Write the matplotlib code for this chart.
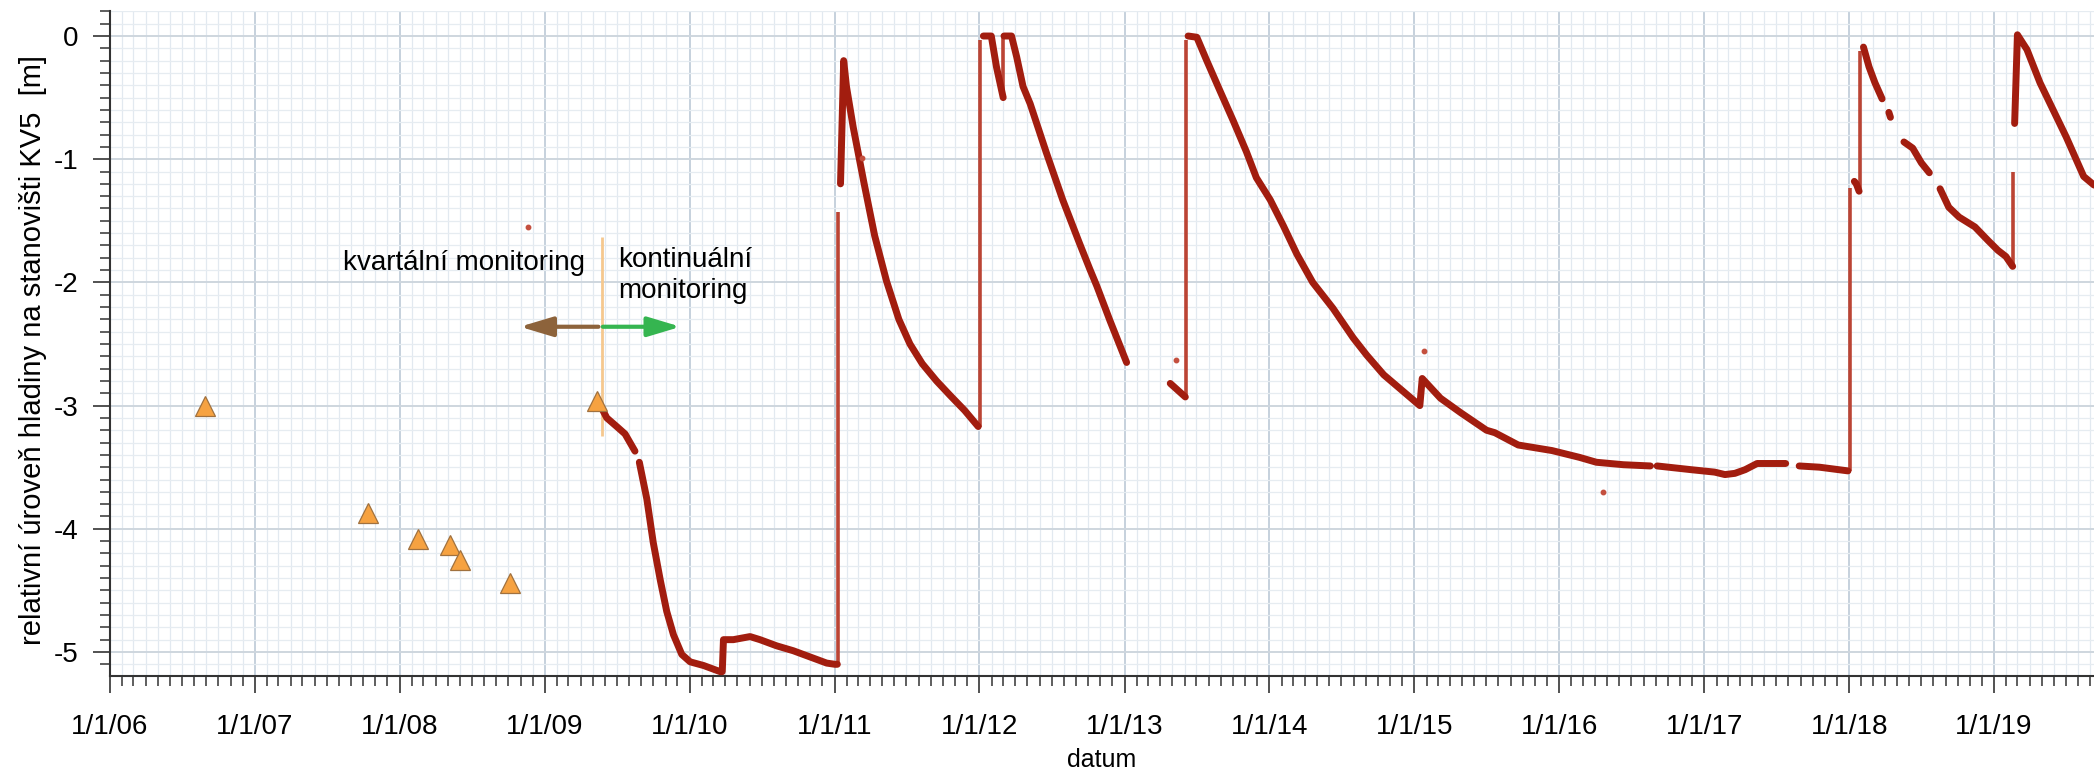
import matplotlib
matplotlib.use("Agg")
import matplotlib.pyplot as plt
import matplotlib.dates as mdates
from matplotlib.ticker import MultipleLocator, FuncFormatter
import numpy as np
import pandas as pd

plt.rcParams['font.family'] = ['Liberation Sans', 'DejaVu Sans']
plt.rcParams['axes.unicode_minus'] = False

nan = np.nan

# ---- quarterly manual measurements (triangles) ----
quarterly_dates = ['2006-08-28', '2007-10-13', '2008-02-15', '2008-05-08',
                   '2008-05-31', '2008-10-05', '2009-05-12']
quarterly_m = [-3.00, -3.87, -4.08, -4.13, -4.25, -4.44, -2.96]

# ---- continuous logger record (NaN = gap in record) ----
level_dates = [
    '2009-05-24', '2009-06-06', '2009-07-01', '2009-07-22', '2009-08-16', '2009-08-16',
    '2009-08-27', '2009-09-15', '2009-10-01', '2009-10-19', '2009-11-04', '2009-11-21',
    '2009-12-12', '2010-01-02', '2010-02-05', '2010-03-19', '2010-03-24', '2010-03-27',
    '2010-04-21', '2010-06-02', '2010-06-27', '2010-08-08', '2010-09-19', '2010-10-31',
    '2010-12-12', '2011-01-02', '2011-01-08', '2011-01-08',
    '2011-01-16', '2011-01-24', '2011-01-31', '2011-02-17', '2011-03-16', '2011-04-12',
    '2011-05-12', '2011-06-12', '2011-07-10', '2011-08-10', '2011-09-15', '2011-10-20',
    '2011-11-25', '2011-12-29', '2011-12-29',
    '2012-01-11', '2012-01-31', '2012-02-13', '2012-03-01', '2012-03-01',
    '2012-03-03', '2012-03-22', '2012-04-04', '2012-04-20', '2012-05-08', '2012-06-17',
    '2012-07-29', '2012-09-09', '2012-10-05', '2012-10-23', '2012-11-25', '2013-01-06',
    '2013-01-06',
    '2013-04-26', '2013-06-03', '2013-06-03',
    '2013-06-10', '2013-07-02', '2013-07-27', '2013-08-30', '2013-10-02', '2013-11-04',
    '2013-11-29', '2014-01-03', '2014-02-05', '2014-03-11', '2014-04-20', '2014-06-10',
    '2014-07-31', '2014-09-03', '2014-10-16', '2014-12-06', '2015-01-15', '2015-01-21',
    '2015-03-08', '2015-04-29', '2015-07-02', '2015-07-23', '2015-09-20', '2015-12-14',
    '2016-02-21', '2016-04-04', '2016-06-11', '2016-08-18', '2016-08-18',
    '2016-09-04', '2016-11-28', '2017-01-27', '2017-02-22', '2017-03-19', '2017-04-14',
    '2017-05-14', '2017-07-25', '2017-07-25',
    '2017-08-28', '2017-10-18', '2017-12-29', '2017-12-29',
    '2018-01-14', '2018-01-19', '2018-01-26', '2018-01-26',
    '2018-02-06', '2018-02-20', '2018-03-07', '2018-03-25', '2018-03-25',
    '2018-04-11', '2018-04-15', '2018-04-15',
    '2018-05-19', '2018-06-10', '2018-07-02', '2018-07-22', '2018-07-22',
    '2018-08-18', '2018-09-09', '2018-10-05', '2018-11-14', '2018-12-17', '2019-01-11',
    '2019-01-31', '2019-02-17', '2019-02-17',
    '2019-02-22', '2019-03-01', '2019-03-25', '2019-04-27', '2019-05-30', '2019-07-02',
    '2019-08-15', '2019-09-10',
]
level_m = [
    -3.02, -3.10, -3.17, -3.23, -3.37, nan,
    -3.46, -3.76, -4.11, -4.42, -4.67, -4.86,
    -5.02, -5.08, -5.11, -5.16, -5.16, -4.90,
    -4.90, -4.875, -4.90, -4.95, -4.99, -5.04,
    -5.09, -5.10, -5.10, nan,
    -1.20, -0.20, -0.41, -0.74, -1.19, -1.62,
    -1.99, -2.30, -2.50, -2.66, -2.80, -2.92,
    -3.04, -3.17, nan,
    0.00, 0.00, -0.25, -0.50, nan,
    0.00, 0.00, -0.17, -0.41, -0.55, -0.94,
    -1.33, -1.68, -1.89, -2.03, -2.31, -2.65,
    nan,
    -2.82, -2.93, nan,
    0.00, -0.01, -0.20, -0.45, -0.69, -0.94,
    -1.15, -1.33, -1.54, -1.77, -2.00, -2.21,
    -2.45, -2.59, -2.75, -2.89, -3.00, -2.78,
    -2.94, -3.06, -3.20, -3.22, -3.32, -3.365,
    -3.42, -3.46, -3.48, -3.49, nan,
    -3.49, -3.52, -3.54, -3.56, -3.55, -3.52,
    -3.47, -3.47, nan,
    -3.49, -3.50, -3.53, nan,
    -1.18, -1.20, -1.26, nan,
    -0.09, -0.25, -0.38, -0.51, nan,
    -0.62, -0.66, nan,
    -0.86, -0.91, -1.03, -1.11, nan,
    -1.24, -1.39, -1.47, -1.55, -1.66, -1.74,
    -1.79, -1.87, nan,
    -0.71, 0.01, -0.11, -0.38, -0.60, -0.82,
    -1.14, -1.21,
]

# ---- fast recharge rises (sparse logger points) ----
rise_dates = ['2011-01-09', '2012-01-03', '2012-03-01', '2013-06-05',
              '2018-01-04', '2018-01-28', '2019-02-19']
rise_low = [-5.10, -3.17, -0.50, -2.93, -3.53, -1.26, -1.87]
rise_high = [-1.43, -0.03, -0.02, -0.03, -1.23, -0.12, -1.10]

# ---- isolated outlier readings ----
stray_dates = ['2008-11-20', '2011-03-11', '2013-05-11', '2015-01-26', '2016-04-20']
stray_m = [-1.55, -0.99, -2.63, -2.56, -3.70]

# ---- annotation positions ----
switch_date = '2009-05-25'
x_start, x_end = '2006-01-01', '2019-09-10'

LINE_C = '#a21d0f'
RISE_C = '#bb4434'

fig = plt.figure(figsize=(20.94, 7.71), dpi=100)
ax = fig.add_axes([110 / 2094, 1 - 676 / 771, (2094 - 110) / 2094, (676 - 11) / 771])

to_dt = lambda s: pd.to_datetime(s)

# grid
ax.set_axisbelow(True)
ax.xaxis.set_major_locator(mdates.YearLocator())
ax.xaxis.set_minor_locator(mdates.MonthLocator())
ax.yaxis.set_major_locator(MultipleLocator(1))
ax.yaxis.set_minor_locator(MultipleLocator(0.1))
ax.grid(which='minor', axis='x', color='#e2e9f0', lw=0.9)
ax.grid(which='minor', axis='y', color='#e6ecf1', lw=0.9)
ax.grid(which='major', axis='x', color='#bccad7', lw=1.2)
ax.grid(which='major', axis='y', color='#ced6de', lw=1.4)

# data
ax.vlines(to_dt(rise_dates), rise_low, rise_high, color=RISE_C, lw=2.6, zorder=3)
ax.plot(to_dt(level_dates), level_m, color=LINE_C, lw=5, solid_capstyle='round',
        solid_joinstyle='round', zorder=4)
ax.plot(to_dt(stray_dates), stray_m, ls='none', marker='o', ms=3.2, color='#c4503f', zorder=4)
ax.plot(to_dt(quarterly_dates), quarterly_m, ls='none', marker='^', ms=14,
        mfc='#f6a241', mec='#a0713f', mew=0.9, zorder=5)

# annotations
ax.vlines(to_dt(switch_date), -3.25, -1.63, color='#f5c88e', lw=2, zorder=3)
ax.text(to_dt('2009-04-12'), -1.90, 'kvartální monitoring', fontsize=20,
        ha='right', va='baseline', zorder=6)
ax.text(to_dt('2009-07-04'), -1.873, 'kontinuální', fontsize=20,
        ha='left', va='baseline', zorder=6)
ax.text(to_dt('2009-07-04'), -2.13, 'monitoring', fontsize=20,
        ha='left', va='baseline', zorder=6)
ax.annotate('', xy=(to_dt('2008-10-30'), -2.36), xytext=(to_dt('2009-05-16'), -2.36),
            arrowprops=dict(arrowstyle='-|>,head_length=1.0,head_width=0.3',
                            color='#8d633b', lw=3, shrinkA=0, shrinkB=0,
                            mutation_scale=20), zorder=6)
ax.annotate('', xy=(to_dt('2009-12-09'), -2.36), xytext=(to_dt('2009-05-27'), -2.36),
            arrowprops=dict(arrowstyle='-|>,head_length=1.0,head_width=0.3',
                            color='#35b550', lw=3, shrinkA=0, shrinkB=0,
                            mutation_scale=20), zorder=6)

# axes
ax.set_xlim(to_dt(x_start), to_dt(x_end))
ax.set_ylim(-5.195, 0.203)
ax.xaxis.set_major_formatter(FuncFormatter(
    lambda v, pos: (lambda d: f"{d.month}/{d.day}/{d.strftime('%y')}")(mdates.num2date(v))))
ax.yaxis.set_major_formatter(FuncFormatter(lambda v, pos: f"{int(round(v))}"))

for s in ['top', 'right']:
    ax.spines[s].set_visible(False)
for s in ['left', 'bottom']:
    ax.spines[s].set_color('#333333')
    ax.spines[s].set_linewidth(1.5)

ax.tick_params(which='major', direction='out', length=12, width=1.2, color='#333333',
               labelsize=20)
ax.tick_params(which='minor', direction='out', length=7, width=1.1, color='#333333')
ax.tick_params(axis='x', which='major', pad=15)
ax.tick_params(axis='y', which='major', pad=11)

ax.set_xlabel('datum', fontsize=18, labelpad=6)
ax.set_ylabel('relativní úroveň hladiny na stanovišti KV5  [m]', fontsize=21, va='center')
ax.yaxis.set_label_coords(-0.0388, 0.49)

fig.savefig('out.png', dpi=100)
